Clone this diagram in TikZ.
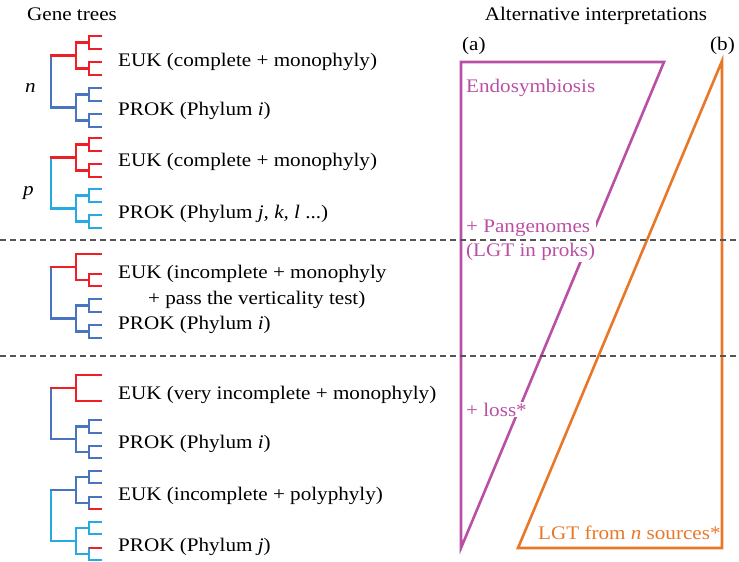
\documentclass[tikz,border=0pt]{standalone}
\usepackage{fontspec}
\setmainfont{Liberation Serif}[FakeStretch=1.1]
\definecolor{tred}{RGB}{237,32,39}
\definecolor{tblue}{RGB}{72,116,192}
\definecolor{tcyan}{RGB}{38,170,225}
\definecolor{tmag}{RGB}{185,80,165}
\definecolor{torg}{RGB}{232,120,40}
\definecolor{dgray}{RGB}{85,85,85}
\begin{document}
\begin{tikzpicture}[x=1pt,y=-1pt,
  br/.style={line width=2.9pt, line join=miter, line cap=butt},
  lbl/.style={anchor=base west, inner sep=0pt, font=\fontsize{19.2}{24}\selectfont},
  tri/.style={line width=2.6pt, line join=miter},
  sep/.style={dgray, line width=1.4pt, dash pattern=on 6pt off 4pt}]
\useasboundingbox (0,0) rectangle (739,562);

% ---------- right panel triangles
\draw[tri,tmag] (461,62) -- (664,62) -- (461,548) -- cycle;
\draw[tri,torg] (722,61) -- (722,548) -- (518,548) -- cycle;

% ---------- tree 1
\draw[br,tred] (102,36)--(89,36)--(89,49)--(102,49);
\draw[br,tred] (102,62)--(89,62)--(89,75)--(102,75);
\draw[br,tred] (89,42.5)--(76,42.5)--(76,68.5)--(89,68.5);
\draw[br,tblue] (51,55.5)--(51,107.5)--(76,107.5);
\draw[br,tred] (76,55.5)--(49.5,55.5);
\draw[br,tblue] (89,94.5)--(76,94.5)--(76,120.5)--(89,120.5);
\draw[br,tblue] (102,88)--(89,88)--(89,101)--(102,101);
\draw[br,tblue] (102,114)--(89,114)--(89,127)--(102,127);

% ---------- tree 2
\draw[br,tred] (102,138)--(89,138)--(89,151)--(102,151);
\draw[br,tred] (102,164)--(89,164)--(89,177)--(102,177);
\draw[br,tred] (89,144.5)--(76,144.5)--(76,170.5)--(89,170.5);
\draw[br,tcyan] (51,157.5)--(51,208.5)--(76,208.5);
\draw[br,tred] (76,157.5)--(49.5,157.5);
\draw[br,tcyan] (89,195.5)--(76,195.5)--(76,221.5)--(89,221.5);
\draw[br,tcyan] (102,189)--(89,189)--(89,202)--(102,202);
\draw[br,tcyan] (102,215)--(89,215)--(89,228)--(102,228);

% ---------- tree 3
\draw[br,tred] (102,254)--(76,254)--(76,280)--(89,280);
\draw[br,tred] (102,274)--(89,274)--(89,286)--(102,286);
\draw[br,tblue] (51,267)--(51,318.5)--(76,318.5);
\draw[br,tred] (76,267)--(49.5,267);
\draw[br,tblue] (89,305.5)--(76,305.5)--(76,331.5)--(89,331.5);
\draw[br,tblue] (102,299)--(89,299)--(89,312)--(102,312);
\draw[br,tblue] (102,325)--(89,325)--(89,338)--(102,338);

% ---------- tree 4
\draw[br,tred] (102,375)--(76,375)--(76,401)--(102,401);
\draw[br,tblue] (51,388)--(51,439)--(76,439);
\draw[br,tred] (76,388)--(49.5,388);
\draw[br,tblue] (89,426.5)--(76,426.5)--(76,452)--(89,452);
\draw[br,tblue] (102,420)--(89,420)--(89,433)--(102,433);
\draw[br,tblue] (102,446)--(89,446)--(89,458)--(102,458);

% ---------- tree 5
\draw[br,tblue] (102,471)--(89,471)--(89,483)--(102,483);
\draw[br,tblue] (102,497)--(89,497)--(89,510.4);
\draw[br,tred] (89,509)--(102,509);
\draw[br,tblue] (89,477)--(76,477)--(76,503)--(89,503);
\draw[br,tcyan] (51,490)--(51,541)--(76,541);
\draw[br,tblue] (76,490)--(49.5,490);
\draw[br,tcyan] (89,528)--(76,528)--(76,554)--(89,554);
\draw[br,tcyan] (102,522)--(89,522)--(89,534)--(102,534);
\draw[br,tcyan] (89,546.6)--(89,560)--(102,560);
\draw[br,tred] (89,548)--(102,548);

% ---------- labels left
\node[lbl,anchor=base] (gt) at (72,20) {Gene trees};
\node[lbl] (nlab) at (25,92) {\itshape n};
\node[lbl] (plab) at (23,195) {\itshape p};
\node[lbl] (e1) at (118,66) {EUK (complete + monophyly)};
\node[lbl] (p1) at (118,115) {PROK (Phylum \textit{i})};
\node[lbl] (e2) at (118,166) {EUK (complete + monophyly)};
\node[lbl] (p2) at (118,218) {PROK (Phylum \textit{j, k, l} ...)};
\node[lbl] (e3) at (118,278) {EUK (incomplete + monophyly};
\node[lbl] (e3b) at (148,304) {+ pass the verticality test)};
\node[lbl] (p3) at (118,329) {PROK (Phylum \textit{i})};
\node[lbl] (e4) at (118,399) {EUK (very incomplete + monophyly)};
\node[lbl] (p4) at (118,448) {PROK (Phylum \textit{i})};
\node[lbl] (e5) at (118,500) {EUK (incomplete + polyphyly)};
\node[lbl] (p5) at (118,551) {PROK (Phylum \textit{j})};

% ---------- labels right
\node[lbl,anchor=base] (ai) at (596,20) {Alternative interpretations};
\node[lbl] (alab) at (462,50) {(a)};
\node[lbl,anchor=base east] (blab) at (735,50) {(b)};
\node[lbl,text=tmag] (endo) at (466,92) {Endosymbiosis};
\node[lbl,text=tmag,fill=white,inner sep=1pt,anchor=north west,align=left] (pan) at (465,219) {+ Pangenomes\\(LGT in proks)};
\node[lbl,text=tmag,fill=white,inner sep=1pt] (loss) at (465,416) {+ loss*};
\node[lbl,text=torg] (lgt) at (538,539) {LGT from \textit{n} sources*};

% ---------- dashed separators
\coordinate (d1l) at (0,240); \coordinate (d1r) at (739,240);
\coordinate (d2l) at (0,356); \coordinate (d2r) at (739,356);
\draw[sep] (d1l) -- (d1r);
\draw[sep] (d2l) -- (d2r);
\end{tikzpicture}
\end{document}
